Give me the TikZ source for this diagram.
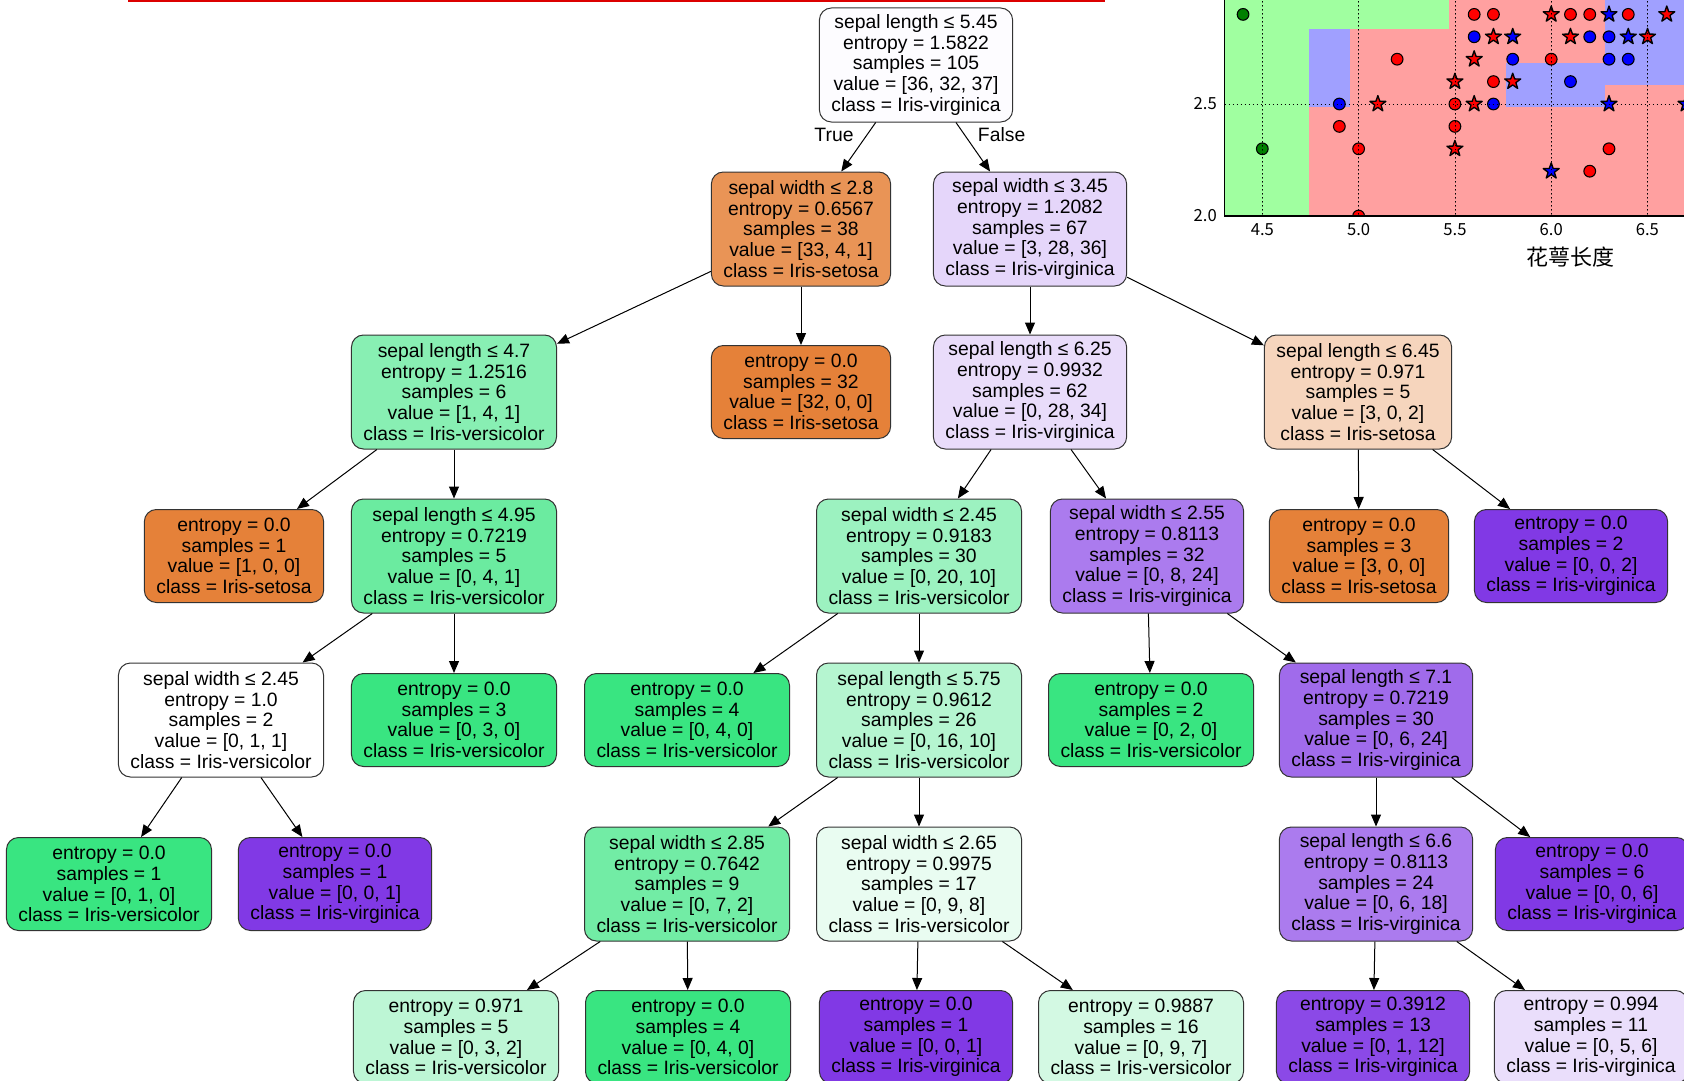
\documentclass[tikz,border=0pt]{standalone}
\usepackage{fontspec}
\setmainfont{Liberation Sans}
\newfontfamily\cjkfont{Noto Sans CJK SC}
\usetikzlibrary{arrows.meta}
\definecolor{setosa}{RGB}{229,129,57}
\definecolor{versicolor}{RGB}{57,229,129}
\definecolor{virginica}{RGB}{129,57,229}
\definecolor{regiongreen}{HTML}{A0FFA0}
\definecolor{regionred}{HTML}{FFA0A0}
\definecolor{regionblue}{HTML}{A0A0FF}
\definecolor{topline}{RGB}{220,0,0}
\newcommand\irisstar[3]{\filldraw[fill=#3, line width=1pt, line join=round] (#1,#2) +(90:6.3pt) -- +(126:2.5pt) -- +(162:6.3pt) -- +(198:2.5pt) -- +(234:6.3pt) -- +(270:2.5pt) -- +(306:6.3pt) -- +(342:2.5pt) -- +(18:6.3pt) -- +(54:2.5pt) -- cycle;}

\begin{document}
\begin{tikzpicture}[font=\fontsize{14.5}{15.5}\selectfont, >={Triangle[length=9pt,width=7.5pt]},
    treenode/.style={draw=black!80, line width=.75pt, rounded corners=9pt, align=center,
      inner xsep=9pt, inner ysep=0pt, minimum height=85.5pt},
    leafnode/.style={treenode, minimum height=69.75pt},
    every edge/.append style={line width=.75pt}]
        \def\x{.75pt}
        \def\y{-.75pt}
        \useasboundingbox (0,0) rectangle (1684*\x, 1081*\y);
        \draw[topline, line width=1.5pt] (128*\x, 1*\y) -- (1105*\x, 1*\y);

        % scatter plot, top right
        \begin{scope}
          \clip (1224.3*\x, 0) rectangle (1684*\x, 216*\y);
          \begin{scope}[shift={(395.6*\x, 664*\y)}, x=144.45pt, y=168pt]
            \fill[regionred] (4.2,1.9) rectangle (6.8,3.0);
            \fill[regiongreen] (4.2,1.9) rectangle (4.74,3.0);
            \fill[regiongreen] (4.74,2.835) rectangle (5.47,3.0);
            \fill[regionblue] (4.74,2.485) rectangle (4.955,2.835);
            \fill[regionblue] (5.765,2.485) rectangle (6.28,2.685);
            \fill[regionblue] (6.28,2.585) rectangle (6.8,3.0);
            \foreach \mx/\my/\mc in {4.4/2.9/green!50!black, 5.6/2.9/red, 5.7/2.9/red, 6.1/2.9/red, 6.2/2.9/red, 6.4/2.9/red,
                5.6/2.8/blue, 6.2/2.8/blue, 6.3/2.8/blue, 5.2/2.7/red, 5.8/2.7/blue, 6.0/2.7/red, 6.3/2.7/blue, 6.4/2.7/blue,
                5.7/2.6/red, 6.1/2.6/blue, 4.9/2.5/blue, 5.5/2.5/red, 5.7/2.5/blue, 4.9/2.4/red, 5.5/2.4/red,
                4.5/2.3/green!50!black, 5.0/2.3/red, 6.3/2.3/red, 6.2/2.2/red, 5.0/2.0/red}
              \filldraw[fill=\mc, line width=.8pt] (\mx,\my) circle[radius=4.4pt];
            \foreach \mx/\my/\mc in {6.0/2.9/red, 6.3/2.9/blue, 6.6/2.9/red, 5.7/2.8/red, 5.8/2.8/blue, 6.1/2.8/red,
                6.4/2.8/blue, 6.5/2.8/red, 5.6/2.7/red, 5.5/2.6/red, 5.8/2.6/red, 5.1/2.5/red, 5.6/2.5/red,
                6.3/2.5/blue, 6.7/2.5/blue, 5.5/2.3/red, 6.0/2.2/blue}
              \irisstar{\mx}{\my}{\mc}
            \foreach \gx in {4.5,5.0,5.5,6.0,6.5}
              \draw[line width=.5pt, dash pattern=on .75pt off 2.25pt] (\gx,1.9) -- (\gx,3.0);
            \draw[line width=.5pt, dash pattern=on .75pt off 2.25pt] (4.2,2.5) -- (6.8,2.5);
          \end{scope}
        \end{scope}
        \draw[line width=.9pt] (1224.3*\x, 0) -- (1224.3*\x, 216*\y) -- (1684*\x, 216*\y);
        \begin{scope}[font=\cjkfont\fontsize{12.5}{14}\selectfont, inner sep=0pt]
          \node[anchor=east] (T2_5) at (1217*\x, 104*\y) {2.5};
          \node[anchor=east] (T2_0) at (1217*\x, 216*\y) {2.0};
          \node (T4_5) at (1262.3*\x, 230*\y) {4.5};
          \node (T5_0) at (1358.6*\x, 230*\y) {5.0};
          \node (T5_5) at (1455*\x, 230*\y) {5.5};
          \node (T6_0) at (1551.2*\x, 230*\y) {6.0};
          \node (T6_5) at (1647.3*\x, 230*\y) {6.5};
          \node[font=\cjkfont\fontsize{16.5}{18}\selectfont] (Xlabel) at (1570*\x, 257*\y) {花萼长度};
        \end{scope}

        % decision tree
        \node[treenode, fill=virginica!1.5] (A0_0) at (916*\x, 65*\y) {sepal length ≤ 5.45\\entropy = 1.5822\\samples = 105\\value = [36, 32, 37]\\class = Iris-virginica};
        \node[treenode, fill=setosa!85.3] (A1_0) at (801*\x, 229*\y) {sepal width ≤ 2.8\\entropy = 0.6567\\samples = 38\\value = [33, 4, 1]\\class = Iris-setosa};
        \node[treenode, fill=virginica!20.5] (A1_1) at (1030*\x, 229*\y) {sepal width ≤ 3.45\\entropy = 1.2082\\samples = 67\\value = [3, 28, 36]\\class = Iris-virginica};
        \node[treenode, fill=versicolor!60] (A2_0) at (454*\x, 392*\y) {sepal length ≤ 4.7\\entropy = 1.2516\\samples = 6\\value = [1, 4, 1]\\class = Iris-versicolor};
        \node[leafnode, fill=setosa] (A2_1) at (801*\x, 392*\y) {entropy = 0.0\\samples = 32\\value = [32, 0, 0]\\class = Iris-setosa};
        \node[treenode, fill=virginica!17.6] (A2_2) at (1030*\x, 392*\y) {sepal length ≤ 6.25\\entropy = 0.9932\\samples = 62\\value = [0, 28, 34]\\class = Iris-virginica};
        \node[treenode, fill=setosa!33.3] (A2_3) at (1358*\x, 392*\y) {sepal length ≤ 6.45\\entropy = 0.971\\samples = 5\\value = [3, 0, 2]\\class = Iris-setosa};
        \node[leafnode, fill=setosa] (A3_0) at (234*\x, 556*\y) {entropy = 0.0\\samples = 1\\value = [1, 0, 0]\\class = Iris-setosa};
        \node[treenode, fill=versicolor!75] (A3_1) at (454*\x, 556*\y) {sepal length ≤ 4.95\\entropy = 0.7219\\samples = 5\\value = [0, 4, 1]\\class = Iris-versicolor};
        \node[treenode, fill=versicolor!50] (A3_2) at (919*\x, 556*\y) {sepal width ≤ 2.45\\entropy = 0.9183\\samples = 30\\value = [0, 20, 10]\\class = Iris-versicolor};
        \node[treenode, fill=virginica!66.7] (A3_3) at (1147*\x, 556*\y) {sepal width ≤ 2.55\\entropy = 0.8113\\samples = 32\\value = [0, 8, 24]\\class = Iris-virginica};
        \node[leafnode, fill=setosa] (A3_4) at (1359*\x, 556*\y) {entropy = 0.0\\samples = 3\\value = [3, 0, 0]\\class = Iris-setosa};
        \node[leafnode, fill=virginica] (A3_5) at (1571*\x, 556*\y) {entropy = 0.0\\samples = 2\\value = [0, 0, 2]\\class = Iris-virginica};
        \node[treenode, fill=white] (A4_0) at (221*\x, 720*\y) {sepal width ≤ 2.45\\entropy = 1.0\\samples = 2\\value = [0, 1, 1]\\class = Iris-versicolor};
        \node[leafnode, fill=versicolor] (A4_1) at (454*\x, 720*\y) {entropy = 0.0\\samples = 3\\value = [0, 3, 0]\\class = Iris-versicolor};
        \node[leafnode, fill=versicolor] (A4_2) at (687*\x, 720*\y) {entropy = 0.0\\samples = 4\\value = [0, 4, 0]\\class = Iris-versicolor};
        \node[treenode, fill=versicolor!37.5] (A4_3) at (919*\x, 720*\y) {sepal length ≤ 5.75\\entropy = 0.9612\\samples = 26\\value = [0, 16, 10]\\class = Iris-versicolor};
        \node[leafnode, fill=versicolor] (A4_4) at (1151*\x, 720*\y) {entropy = 0.0\\samples = 2\\value = [0, 2, 0]\\class = Iris-versicolor};
        \node[treenode, fill=virginica!75] (A4_5) at (1376*\x, 720*\y) {sepal length ≤ 7.1\\entropy = 0.7219\\samples = 30\\value = [0, 6, 24]\\class = Iris-virginica};
        \node[leafnode, fill=versicolor] (A5_0) at (109*\x, 884*\y) {entropy = 0.0\\samples = 1\\value = [0, 1, 0]\\class = Iris-versicolor};
        \node[leafnode, fill=virginica] (A5_1) at (335*\x, 884*\y) {entropy = 0.0\\samples = 1\\value = [0, 0, 1]\\class = Iris-virginica};
        \node[treenode, fill=versicolor!71.4] (A5_2) at (687*\x, 884*\y) {sepal width ≤ 2.85\\entropy = 0.7642\\samples = 9\\value = [0, 7, 2]\\class = Iris-versicolor};
        \node[treenode, fill=versicolor!11.1] (A5_3) at (919*\x, 884*\y) {sepal width ≤ 2.65\\entropy = 0.9975\\samples = 17\\value = [0, 9, 8]\\class = Iris-versicolor};
        \node[treenode, fill=virginica!66.7] (A5_4) at (1376*\x, 884*\y) {sepal length ≤ 6.6\\entropy = 0.8113\\samples = 24\\value = [0, 6, 18]\\class = Iris-virginica};
        \node[leafnode, fill=virginica] (A5_5) at (1592*\x, 884*\y) {entropy = 0.0\\samples = 6\\value = [0, 0, 6]\\class = Iris-virginica};
        \node[leafnode, fill=versicolor!33.3] (A6_0) at (456*\x, 1037*\y) {entropy = 0.971\\samples = 5\\value = [0, 3, 2]\\class = Iris-versicolor};
        \node[leafnode, fill=versicolor] (A6_1) at (688*\x, 1037*\y) {entropy = 0.0\\samples = 4\\value = [0, 4, 0]\\class = Iris-versicolor};
        \node[leafnode, fill=virginica] (A6_2) at (916*\x, 1037*\y) {entropy = 0.0\\samples = 1\\value = [0, 0, 1]\\class = Iris-virginica};
        \node[leafnode, fill=versicolor!22.2] (A6_3) at (1141*\x, 1037*\y) {entropy = 0.9887\\samples = 16\\value = [0, 9, 7]\\class = Iris-versicolor};
        \node[leafnode, fill=virginica!91.7] (A6_4) at (1373*\x, 1037*\y) {entropy = 0.3912\\samples = 13\\value = [0, 1, 12]\\class = Iris-virginica};
        \node[leafnode, fill=virginica!16.7] (A6_5) at (1591*\x, 1037*\y) {entropy = 0.994\\samples = 11\\value = [0, 5, 6]\\class = Iris-virginica};

        \path (A0_0) edge [->] node [auto,swap,pos=.5] {True} (A1_0);
        \path (A0_0) edge [->] node [auto,pos=.5] {False} (A1_1);
        \path (A1_0) edge [->] (A2_0);
        \path (A1_0) edge [->] (A2_1);
        \path (A1_1) edge [->] (A2_2);
        \path (A1_1) edge [->] (A2_3);
        \path (A2_0) edge [->] (A3_0);
        \path (A2_0) edge [->] (A3_1);
        \path (A2_2) edge [->] (A3_2);
        \path (A2_2) edge [->] (A3_3);
        \path (A2_3) edge [->] (A3_4);
        \path (A2_3) edge [->] (A3_5);
        \path (A3_1) edge [->] (A4_0);
        \path (A3_1) edge [->] (A4_1);
        \path (A3_2) edge [->] (A4_2);
        \path (A3_2) edge [->] (A4_3);
        \path (A3_3) edge [->] (A4_4);
        \path (A3_3) edge [->] (A4_5);
        \path (A4_0) edge [->] (A5_0);
        \path (A4_0) edge [->] (A5_1);
        \path (A4_3) edge [->] (A5_2);
        \path (A4_3) edge [->] (A5_3);
        \path (A4_5) edge [->] (A5_4);
        \path (A4_5) edge [->] (A5_5);
        \path (A5_2) edge [->] (A6_0);
        \path (A5_2) edge [->] (A6_1);
        \path (A5_3) edge [->] (A6_2);
        \path (A5_3) edge [->] (A6_3);
        \path (A5_4) edge [->] (A6_4);
        \path (A5_4) edge [->] (A6_5);
\end{tikzpicture}
\end{document}
